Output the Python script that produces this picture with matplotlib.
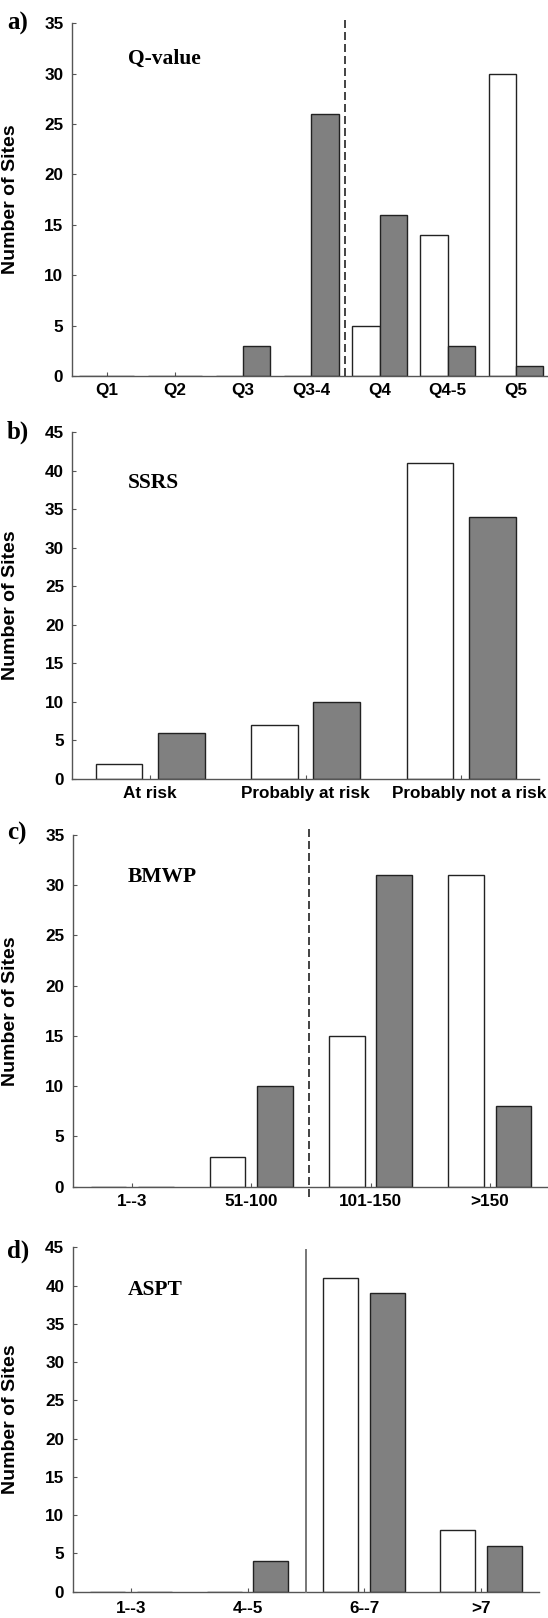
import matplotlib
matplotlib.use("Agg")
import matplotlib.pyplot as plt
from matplotlib.transforms import ScaledTranslation
import numpy as np

# ---- data ----
q_cats = ["Q1", "Q2", "Q3", "Q3-4", "Q4", "Q4-5", "Q5"]
q_white = [0, 0, 0, 0, 5, 14, 30]
q_gray = [0, 0, 3, 26, 16, 3, 1]

ssrs_cats = ["At risk", "Probably at risk", "Probably not a risk"]
ssrs_white = [2, 7, 41]
ssrs_gray = [6, 10, 34]

bmwp_cats = ["1--3", "51-100", "101-150", ">150"]
bmwp_white = [0, 3, 15, 31]
bmwp_gray = [0, 10, 31, 8]

aspt_cats = ["1--3", "4--5", "6--7", ">7"]
aspt_white = [0, 0, 41, 8]
aspt_gray = [0, 4, 39, 6]

W, H = 548, 1618
fig = plt.figure(figsize=(W / 100, H / 100), dpi=100)

SANS = ["Liberation Sans", "DejaVu Sans"]
SERIF = ["Liberation Serif", "DejaVu Serif"]
GRAY = "#808080"
SPINE = "#555555"


def add_ax(left, right, top, bottom):
    return fig.add_axes([left / W, 1 - bottom / H, (right - left) / W, (bottom - top) / H])


def style(ax, cats, ymax, xlim, panel, title, title_xy, label_y, xpad=5):
    ax.set_ylim(0, ymax)
    ax.set_xlim(*xlim)
    ax.set_yticks(np.arange(0, ymax + 1, 5))
    ax.set_xticks(np.arange(len(cats)))
    ax.set_xticklabels(cats)
    for s in ["top", "right"]:
        ax.spines[s].set_visible(False)
    for s in ["left", "bottom"]:
        ax.spines[s].set_color(SPINE)
        ax.spines[s].set_linewidth(1.0)
    ax.tick_params(axis="both", direction="in", length=3, width=0.8, color=SPINE)
    ax.tick_params(axis="y", pad=6)
    ax.tick_params(axis="x", pad=xpad)
    for lab in ax.get_yticklabels() + ax.get_xticklabels():
        lab.set_family(SANS)
        lab.set_fontweight("bold")
        lab.set_fontsize(12.3)
    ax.set_ylabel("Number of Sites", family=SANS, fontweight="bold", fontsize=14)
    pos = ax.get_position()
    ax.yaxis.set_label_coords(-(pos.x0 * W - 19) / (pos.width * W), 0.5)
    fig.text(7 / W, 1 - label_y / H, panel, family=SERIF, fontweight="bold", fontsize=18,
             ha="left", va="center")
    fig.text(title_xy[0] / W, 1 - title_xy[1] / H, title, family=SERIF, fontweight="bold",
             fontsize=15.5, ha="left", va="center")


def bars(ax, white, gray, width, off):
    x = np.arange(len(white))
    ax.bar(x - off, white, width, color="white", edgecolor="#222222", linewidth=1.0, zorder=2)
    ax.bar(x + off, gray, width, color=GRAY, edgecolor="#222222", linewidth=1.0, zorder=2)


# a) Q-value
ax = add_ax(71.7, 548, 23.3, 376)
bars(ax, q_white, q_gray, 0.4, 0.2)
style(ax, q_cats, 35, (-0.513, 6.47), "a)", "Q-value", (128, 59), 23.5)
ax.plot([3.5, 3.5], [0, 35.3], color="#222222", lw=1.2, ls=(0, (4.8, 2.4)), clip_on=False, zorder=3)

# b) SSRS
ax = add_ax(72.4, 539, 432.3, 779)
bars(ax, ssrs_white, ssrs_gray, 0.3, 0.2)
style(ax, ssrs_cats, 45, (-0.5, 2.5), "b)", "SSRS", (128, 482.5), 432)
lab = ax.get_xticklabels()[-1]
lab.set_transform(lab.get_transform() + ScaledTranslation(8 / 100, 0, fig.dpi_scale_trans))

# c) BMWP
ax = add_ax(72.7, 548, 835, 1186.7)
bars(ax, bmwp_white, bmwp_gray, 0.3, 0.2)
style(ax, bmwp_cats, 35, (-0.5, 3.49), "c)", "BMWP", (128, 876.5), 833)
ax.plot([1.48, 1.48], [-1.0, 35.8], color="#222222", lw=1.2, ls=(0, (4.8, 2.4)), clip_on=False, zorder=3)

# d) ASPT
ax = add_ax(72.7, 539, 1247.3, 1591.7)
bars(ax, aspt_white, aspt_gray, 0.3, 0.2)
style(ax, aspt_cats, 45, (-0.5, 3.5), "d)", "ASPT", (128, 1290), 1251, xpad=7)
ax.plot([1.5, 1.5], [0, 44.7], color="#777777", lw=1.4, clip_on=False, zorder=3)

fig.savefig("out.png", dpi=100)
